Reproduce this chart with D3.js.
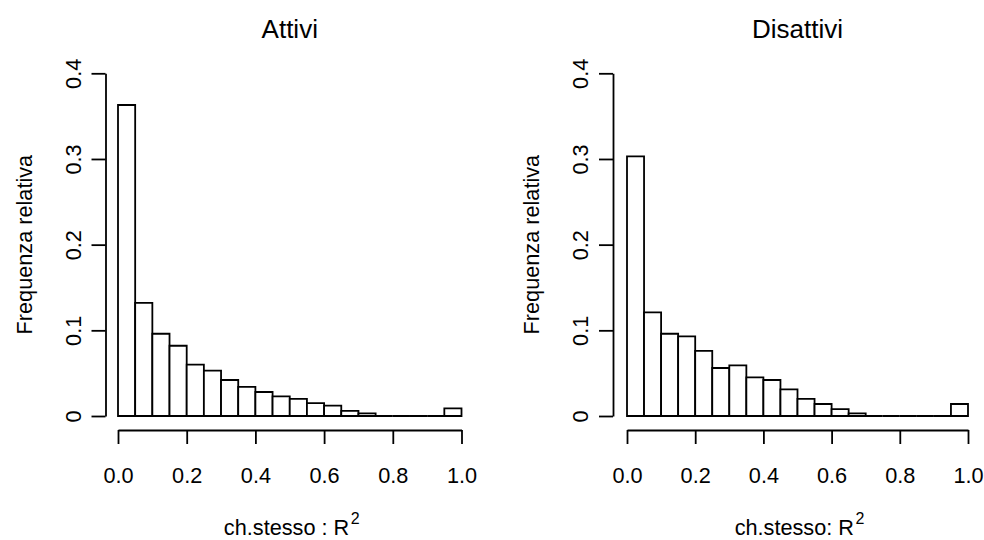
<!DOCTYPE html>
<html>
<head>
<meta charset="utf-8">
<script src="https://cdn.jsdelivr.net/npm/d3@7"></script>
<style>
  html, body { margin: 0; padding: 0; background: #fff; }
  svg { display: block; }
  text { font-family: "Liberation Sans", Arial, Helvetica, sans-serif; fill: #000; }
</style>
</head>
<body>
<svg id="chart" width="984" height="540"></svg>
<script>
// ---- data ----
const breaks = [0, 0.05, 0.1, 0.15, 0.2, 0.25, 0.3, 0.35, 0.4, 0.45, 0.5,
                0.55, 0.6, 0.65, 0.7, 0.75, 0.8, 0.85, 0.9, 0.95, 1.0];
const attivi = [0.363, 0.132, 0.096, 0.082, 0.060, 0.053, 0.042, 0.034, 0.028, 0.023,
                0.020, 0.015, 0.012, 0.006, 0.003, 0, 0, 0, 0, 0.009];
const disattivi = [0.303, 0.121, 0.096, 0.093, 0.076, 0.056, 0.059, 0.045, 0.042, 0.031,
                   0.020, 0.014, 0.008, 0.003, 0, 0, 0, 0, 0, 0.014];
const titles = ["Attivi", "Disattivi"];
const xTicks = [0, 0.2, 0.4, 0.6, 0.8, 1.0];
const xTickLabels = ["0.0", "0.2", "0.4", "0.6", "0.8", "1.0"];
const yTicks = [0, 0.1, 0.2, 0.3, 0.4];
const yTickLabels = ["0", "0.1", "0.2", "0.3", "0.4"];
const yLabel = "Frequenza relativa";
const xLabelMains = ["ch.stesso : R", "ch.stesso: R"];
const xLabelSup = "2";

// ---- layout ----
const panels = [
  { values: attivi, title: titles[0], xlab: xLabelMains[0], x0: 118, x1: 461.5, yAxisX: 105.5 },
  { values: disattivi, title: titles[1], xlab: xLabelMains[1], x0: 627, x1: 968, yAxisX: 613 }
];
const yBottom = 416, yTop = 73.3, xAxisY = 430;
const baseFont = 21.7, titleFont = 26, supFont = 16;
const lw = 1.8, tick = 14;

const svg = d3.select("#chart");

panels.forEach(p => {
  const g = svg.append("g");
  const x = d3.scaleLinear().domain([0, 1]).range([p.x0, p.x1]);
  const y = d3.scaleLinear().domain([0, 0.4]).range([yBottom, yTop]);

  // bars (as paths so zero-height bins still show a line)
  const bins = p.values.map((v, i) => ({ a: breaks[i], b: breaks[i + 1], v }));
  g.selectAll("path.bar").data(bins).enter().append("path")
    .attr("class", "bar")
    .attr("d", d => `M${x(d.a)},${y(0)}V${y(d.v)}H${x(d.b)}V${y(0)}Z`)
    .attr("fill", "#fff")
    .attr("stroke", "#000")
    .attr("stroke-width", lw)
    .attr("stroke-linejoin", "miter");

  // x axis
  const xa = g.append("g").attr("transform", `translate(0,${xAxisY})`)
    .call(d3.axisBottom(x).tickValues(xTicks).tickFormat((d, i) => xTickLabels[i])
      .tickSize(tick).tickSizeOuter(0).tickPadding(24));
  xa.selectAll("path, line").attr("stroke", "#000").attr("stroke-width", lw);
  xa.selectAll("text").attr("font-size", baseFont).attr("fill", "#000")
    .attr("font-family", "Liberation Sans, Arial, sans-serif");

  // y axis
  const ya = g.append("g").attr("transform", `translate(${p.yAxisX},0)`)
    .call(d3.axisLeft(y).tickValues(yTicks).tickFormat((d, i) => yTickLabels[i])
      .tickSize(tick).tickSizeOuter(0));
  ya.selectAll("path, line").attr("stroke", "#000").attr("stroke-width", lw);
  ya.selectAll(".tick text")
    .attr("font-size", baseFont).attr("fill", "#000")
    .attr("font-family", "Liberation Sans, Arial, sans-serif")
    .attr("x", null).attr("y", null).attr("dy", null)
    .attr("text-anchor", "middle")
    .attr("transform", "translate(-25,0) rotate(-90)");

  // title
  g.append("text")
    .attr("x", (p.x0 + p.x1) / 2).attr("y", 38)
    .attr("text-anchor", "middle").attr("font-size", titleFont)
    .text(p.title);

  // y label
  g.append("text")
    .attr("transform", `translate(${p.yAxisX - 74},${(yTop + yBottom) / 2}) rotate(-90)`)
    .attr("text-anchor", "middle").attr("font-size", baseFont)
    .text(yLabel);

  // x label with superscript
  const xl = g.append("text")
    .attr("x", (p.x0 + p.x1) / 2 + 2).attr("y", 535)
    .attr("text-anchor", "middle").attr("font-size", baseFont);
  xl.append("tspan").text(p.xlab);
  xl.append("tspan").attr("dx", 1.5).attr("dy", -11).attr("font-size", supFont).text(xLabelSup);
});
</script>
</body>
</html>
